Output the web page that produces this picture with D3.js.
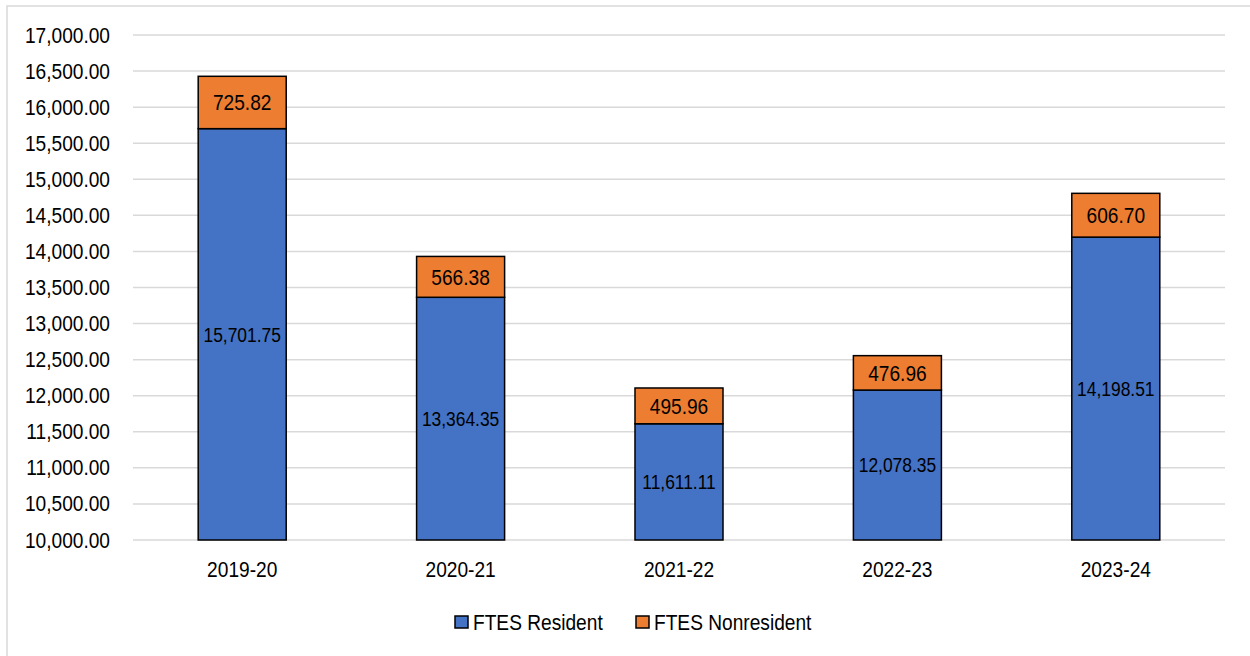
<!DOCTYPE html>
<html>
<head>
<meta charset="utf-8">
<script src="https://cdn.jsdelivr.net/npm/d3@7"></script>
<style>
  body { margin: 0; background: #fff; }
  svg text { font-family: "Liberation Sans", Arial, sans-serif; fill: #000; }
</style>
</head>
<body>
<div id="chart"></div>
<script>
// chart values
var years = ["2019-20", "2020-21", "2021-22", "2022-23", "2023-24"];
var resident = [15701.75, 13364.35, 11611.11, 12078.35, 14198.51];
var nonresident = [725.82, 566.38, 495.96, 476.96, 606.70];
var seriesNames = ["FTES Resident", "FTES Nonresident"];
var seriesColors = ["#4472C4", "#ED7D31"];
var yTicks = d3.range(10000, 17001, 500);

var width = 1250, height = 656;
var margin = {top: 35, right: 25, bottom: 116, left: 133};
var squeeze = 0.87; // narrow-looking text of the original

var svg = d3.select("#chart").append("svg")
    .attr("width", width)
    .attr("height", height);

// outer chart border
svg.append("rect")
    .attr("x", 7).attr("y", 6)
    .attr("width", width + 10).attr("height", height + 10)
    .attr("fill", "none")
    .attr("stroke", "#d9d9d9")
    .attr("stroke-width", 1.5);

var x = d3.scaleBand()
    .domain(years)
    .range([margin.left, width - margin.right])
    .paddingInner(0.597)
    .paddingOuter(0.2985);

var y = d3.scaleLinear()
    .domain([10000, 17000])
    .range([height - margin.bottom, margin.top]);

// gridlines
svg.append("g")
    .selectAll("line")
    .data(yTicks)
    .join("line")
    .attr("x1", margin.left)
    .attr("x2", width - margin.right)
    .attr("y1", d => y(d))
    .attr("y2", d => y(d))
    .attr("stroke", "#d9d9d9")
    .attr("stroke-width", 1.5);

// y axis labels
var fmt2 = d3.format(",.2f");
var yAxis = d3.axisLeft(y)
    .tickValues(yTicks)
    .tickFormat(fmt2)
    .tickSize(0)
    .tickPadding(23 / squeeze);

svg.append("g")
    .attr("transform", "translate(" + margin.left + ",0)")
    .call(yAxis)
    .call(g => g.select(".domain").remove())
    .selectAll("text")
    .attr("transform", "scale(" + squeeze + ",1)")
    .style("font-size", "22px");

// x axis labels
var xAxis = d3.axisBottom(x).tickSize(0).tickPadding(21);
svg.append("g")
    .attr("transform", "translate(0," + y(10000) + ")")
    .call(xAxis)
    .call(g => g.select(".domain").remove())
    .selectAll("text")
    .attr("transform", "scale(" + squeeze + ",1)")
    .style("font-size", "22px");

var rows = years.map(function(yr, i) {
    return {year: yr, resident: resident[i], nonresident: nonresident[i]};
});

var stack = d3.stack().keys(["resident", "nonresident"]);
var stacked = stack(rows);

var groups = svg.append("g")
    .selectAll("g")
    .data(stacked)
    .join("g")
    .attr("fill", (d, i) => seriesColors[i]);

groups.selectAll("rect")
    .data(d => d)
    .join("rect")
    .attr("x", d => x(d.data.year))
    .attr("width", x.bandwidth())
    .attr("y", d => y(d[1]))
    .attr("height", d => y(Math.max(d[0], 10000)) - y(d[1]))
    .attr("stroke", "#000")
    .attr("stroke-width", 1.5);

// data labels
groups.each(function(s, si) {
    d3.select(this).selectAll("text")
        .data(s)
        .join("text")
        .attr("transform", function(d) {
            var cx = x(d.data.year) + x.bandwidth() / 2;
            var cy = (y(Math.max(d[0], 10000)) + y(d[1])) / 2;
            return "translate(" + cx + "," + cy + ") scale(" + squeeze + ",1)";
        })
        .attr("dy", "0.36em")
        .attr("text-anchor", "middle")
        .style("font-size", si === 0 ? "20px" : "22px")
        .style("fill", "#000")
        .text(d => fmt2(d[1] - d[0]));
});

// legend
var legend = svg.append("g").attr("transform", "translate(455,622)");
var legX = [0, 181];
seriesNames.forEach(function(name, i) {
    var g = legend.append("g").attr("transform", "translate(" + legX[i] + ",0)");
    g.append("rect")
        .attr("x", 0).attr("y", -6)
        .attr("width", 13).attr("height", 12)
        .attr("fill", seriesColors[i])
        .attr("stroke", "#000")
        .attr("stroke-width", 1.5);
    g.append("text")
        .attr("transform", "translate(18,0) scale(" + squeeze + ",1)")
        .attr("dy", "0.36em")
        .style("font-size", "22px")
        .text(name);
});
</script>
</body>
</html>
